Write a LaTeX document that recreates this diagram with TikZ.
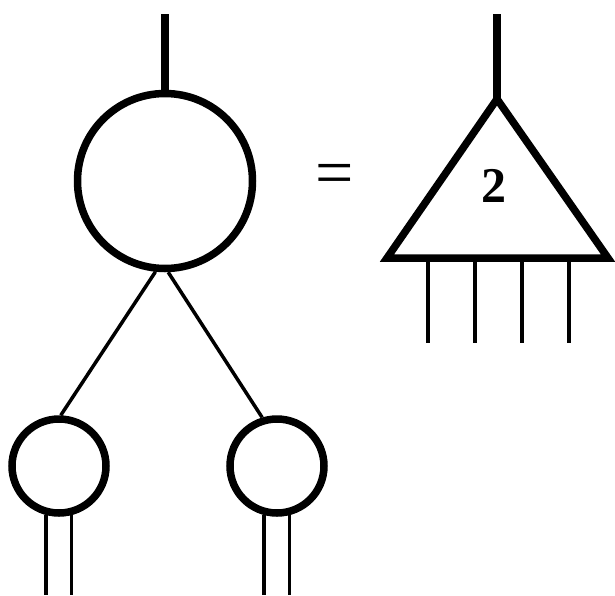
\documentclass[tikz,border=0pt]{standalone}
\usepackage{fontspec}
\setmainfont{Liberation Serif}
\tikzset{%
  every vertex/.style={
    circle,
    draw,
    line width=7.5pt,
    inner sep=0pt
  },
  vertex root/.style={minimum size=175pt},
  vertex leaf/.style={minimum size=94pt},
  leg/.style={line width=3.5pt},
  stem/.style={line width=7.5pt},
  tensor/.style={line width=7.5pt, line join=miter},
}
\begin{document}
\begin{tikzpicture}[x=1pt, y=-1pt]
    \useasboundingbox (0,0) rectangle (615,595);

    \node [every vertex, vertex root] (root) at (165,181) {};

    \foreach \m/\x in {1/59,2/277}
    \node [every vertex, vertex leaf] (leaf-\m) at (\x,466) {};

    \coordinate (top-root) at (165,14);
    \draw [stem] (top-root) -- (root.north);

    \draw [leg] (root.264) -- (leaf-1.88);
    \draw [leg] (root.272) -- (leaf-2.107);

    \coordinate (bottom) at (0,595);
    \foreach \m in {1,2}
    \foreach \a in {255,284}
        \draw [leg] (leaf-\m.\a) -- (leaf-\m.\a |- bottom);

    \node (equals) at (335,180) {\fontsize{68}{68}\selectfont =};

    \coordinate (apex) at (497,99);
    \coordinate (base-l) at (387,258);
    \coordinate (base-r) at (608,258);
    \draw [tensor] (apex) -- (base-l) -- (base-r) -- cycle;
    \node (rank) at (494,186) {\fontsize{50}{50}\selectfont\bfseries 2};

    \coordinate (top-tensor) at (497,14);
    \draw [stem] (top-tensor) -- (apex);

    \foreach \x [count=\i] in {428,475,522,569}
    \coordinate (foot-\i) at (\x,343);

    \foreach \i in {1,...,4}
        \draw [leg] (foot-\i |- base-l) -- (foot-\i);

\end{tikzpicture}
\end{document}
